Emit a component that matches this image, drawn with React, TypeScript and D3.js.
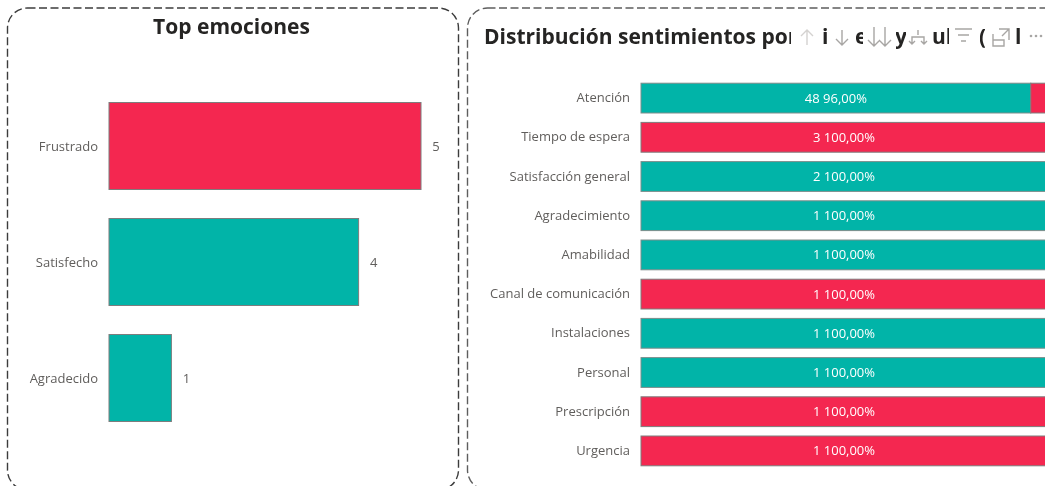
import React from 'react';
import * as d3 from 'd3';

const W = 1045;
const H = 486;
const TEAL = '#01B4A8';
const RED = '#F42750';
const LABEL = '#605E5C';
const FONT = '"Open Sans", "Noto Sans", sans-serif';

const emotions = ['Frustrado', 'Satisfecho', 'Agradecido'];
const emotionValues = [5, 4, 1];
const emotionColors = [RED, TEAL, TEAL];

const topics = ['Atención', 'Tiempo de espera', 'Satisfacción general', 'Agradecimiento', 'Amabilidad', 'Canal de comunicación', 'Instalaciones', 'Personal', 'Prescripción', 'Urgencia'];
const positives = [48, 0, 2, 1, 1, 0, 1, 1, 0, 0];
const negatives = [2, 3, 0, 0, 0, 1, 0, 0, 1, 1];

// what is left of the title between the header icons: text, x, visible width
const titleBits: [string, number, number][] = [
  ['i', 822, 5],
  ['e', 855, 7],
  ['y', 895, 10],
  ['ub', 932, 16],
  ['(', 979, 5],
  ['l', 1015, 6],
];

const x1 = d3.scaleLinear().domain([0, 5]).range([109, 421]);
const y1 = d3.scaleBand().domain(emotions).range([88, 436]).paddingInner(0.25).paddingOuter(0.125);

const x2 = d3.scaleLinear().domain([0, 1]).range([641, 1047]);
const y2 = d3.scaleBand().domain(topics).range([78.5, 470.5]).paddingInner(0.24).paddingOuter(0.12);

const pct = d3.format('.2f');
const pctLabel = (v: number) => pct(v * 100).replace('.', ',') + '%';

const Icons = () => (
  <g fill="none" stroke="#A8A6A4" strokeWidth={1.4}>
    <path d="M807 45V30M801 36l6-6 6 6" stroke="#D4D2D0" />
    <path d="M842 30V45M836 39l6 6 6-6" />
    <path d="M874 27V46M868 40l6 6 6-6M885 27V46M879 40l6 6 6-6" />
    <path d="M918 30V35M912 44V37H924V44M909 41l3 3 3-3M921 41l3 3 3-3" />
    <path d="M955 29H972M958 35H969M961 41H966" />
    <path d="M993 34V46H1004V40H993M999 29H1009V40M1002 36L1009 29" />
    <g fill="#A8A6A4" stroke="none">
      <circle cx={1031} cy={36} r={1.3} />
      <circle cx={1036} cy={36} r={1.3} />
      <circle cx={1041} cy={36} r={1.3} />
    </g>
  </g>
);

export default function App() {
  return (
    <svg width={W} height={H} style={{ position: 'absolute', left: 0, top: 0, background: '#fff', filter: 'blur(0.35px)' }} fontFamily={FONT}>
      <defs>
        <clipPath id="title-clip">
          <rect x={480} y={20} width={311} height={35} />
        </clipPath>
        {titleBits.map(([t, x, w]) => (
          <clipPath key={x} id={`bit-${x}`}>
            <rect x={x + 1} y={20} width={w} height={35} />
          </clipPath>
        ))}
      </defs>

      <rect x={7.5} y={8} width={451} height={482} rx={20} fill="none" stroke="#3c3c3c" strokeWidth={1.4} strokeDasharray="8 3.5" />
      <rect x={467.5} y={8} width={596} height={482} rx={20} fill="none" stroke="#5e5e5e" strokeWidth={1.4} strokeDasharray="8 3.5" />

      <text x={231.5} y={34} textAnchor="middle" fontSize={21} fontWeight={700} fill="#252423">Top emociones</text>

      {emotions.map((d, i) => {
        const y = y1(d)!;
        const cy = y + y1.bandwidth() / 2;
        return (
          <g key={d}>
            <rect x={x1(0)} y={y} width={x1(emotionValues[i]) - x1(0)} height={y1.bandwidth()} fill={emotionColors[i]} stroke="#7d7d7d" strokeWidth={1} />
            <text x={98} y={cy} dy="0.35em" textAnchor="end" fontSize={13} fill={LABEL}>{d}</text>
            <text x={x1(emotionValues[i]) + 15} y={cy} dy="0.35em" textAnchor="middle" fontSize={13} fill={LABEL}>{emotionValues[i]}</text>
          </g>
        );
      })}

      <text x={484} y={44} fontSize={21} fontWeight={700} fill="#252423" clipPath="url(#title-clip)">Distribución sentimientos por</text>
      {titleBits.map(([t, x]) => (
        <text key={x} x={x} y={44} fontSize={21} fontWeight={700} fill="#252423" clipPath={`url(#bit-${x})`}>{t}</text>
      ))}
      <Icons />

      {topics.map((d, i) => {
        const y = y2(d)!;
        const total = positives[i] + negatives[i];
        const share = positives[i] / total;
        const cy = y + y2.bandwidth() / 2;
        const main = positives[i] >= negatives[i] ? positives[i] : negatives[i];
        const mainShare = main / total;
        const start = positives[i] >= negatives[i] ? 0 : share;
        const mid = x2(start + mainShare / 2);
        return (
          <g key={d}>
            {positives[i] > 0 && (
              <rect x={x2(0)} y={y} width={x2(share) - x2(0)} height={y2.bandwidth()} fill={TEAL} stroke="#7d8d8b" strokeWidth={1} />
            )}
            {negatives[i] > 0 && (
              <rect x={x2(share)} y={y} width={x2(1) - x2(share)} height={y2.bandwidth()} fill={RED} stroke="#7d7d7d" strokeWidth={1} />
            )}
            <text x={630} y={cy - 0.5} dy="0.35em" textAnchor="end" fontSize={13} fill={LABEL}>{d}</text>
            <text x={mid} y={cy} dy="0.35em" textAnchor="middle" fontSize={13} fill="#fff">{main} {pctLabel(mainShare)}</text>
          </g>
        );
      })}
    </svg>
  );
}
